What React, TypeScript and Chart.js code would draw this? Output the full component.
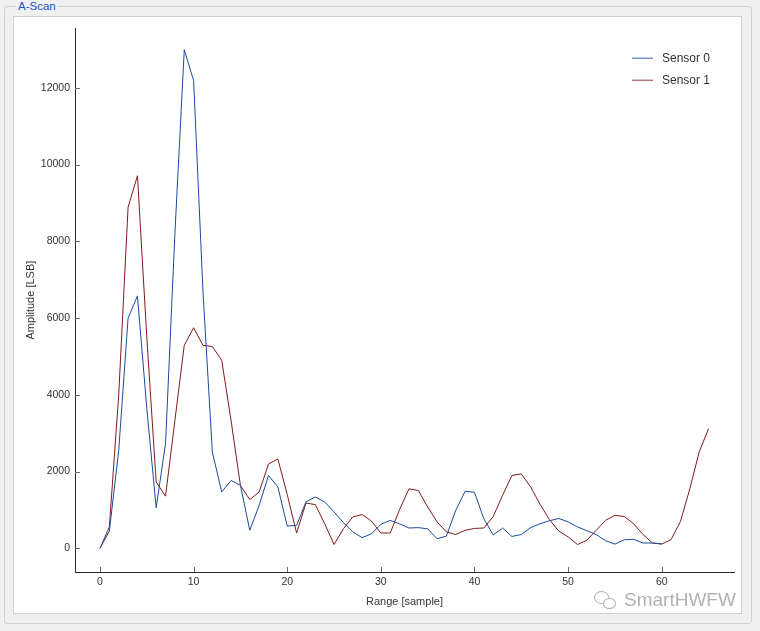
import React, { useEffect, useRef } from "react";
import { Chart, registerables } from "chart.js";

Chart.register(...registerables);

const seriesLabels = ["Sensor 0", "Sensor 1"];
const seriesColors = ["#1a4a9c", "#821a1a"];

const sensor0 = [
  0, 450, 2550, 6000, 6580, 3650, 1060, 2730, 8200, 12990,
  12190, 6700, 2510, 1470, 1770, 1640, 470, 1120, 1900, 1600,
  580, 600, 1210, 1340, 1210, 950, 670, 430, 280, 380,
  625, 730, 640, 530, 540, 510, 250, 320, 990, 1490,
  1460, 770, 350, 530, 310, 360, 540, 640, 720, 780,
  690, 560, 460, 360, 200, 110, 225, 235, 140, 140,
  120,
];

const sensor1 = [
  0, 560, 4000, 8890, 9710, 5500, 1730, 1360, 3330, 5290,
  5750, 5290, 5260, 4900, 3330, 1640, 1270, 1470, 2200, 2330,
  1400, 400, 1180, 1140, 640, 100, 510, 820, 880, 710,
  400, 400, 1010, 1550, 1510, 1080, 690, 430, 360, 470,
  520, 530, 830, 1380, 1900, 1940, 1600, 1150, 750, 450,
  300, 100, 210, 470, 730, 860, 830, 640, 360, 140,
  110, 230, 700, 1550, 2510, 3120,
];

const xTicks = [0, 10, 20, 30, 40, 50, 60];
const yTicks = [0, 2000, 4000, 6000, 8000, 10000, 12000];

const xTitle = "Range [sample]";
const yTitle = "Amplitude [LSB]";
const groupTitle = "A-Scan";
const watermark = "SmartHWFW";

const FONT = "'Liberation Sans', Arial, sans-serif";

const innerTicks = {
  id: "innerTicks",
  afterDraw(chart: any) {
    const { ctx, chartArea, scales } = chart;
    ctx.save();
    ctx.strokeStyle = "#6a6a6a";
    ctx.lineWidth = 1;
    ctx.beginPath();
    scales.x.ticks.forEach((t: any) => {
      const px = Math.round(scales.x.getPixelForValue(t.value)) + 0.5;
      ctx.moveTo(px, chartArea.bottom);
      ctx.lineTo(px, chartArea.bottom - 5);
    });
    scales.y.ticks.forEach((t: any) => {
      const py = Math.round(scales.y.getPixelForValue(t.value)) + 0.5;
      ctx.moveTo(chartArea.left, py);
      ctx.lineTo(chartArea.left + 5, py);
    });
    ctx.stroke();
    ctx.restore();
  },
};

const cornerLegend = {
  id: "cornerLegend",
  afterDraw(chart: any) {
    const { ctx, chartArea } = chart;
    ctx.save();
    ctx.font = `12px ${FONT}`;
    ctx.textBaseline = "middle";
    ctx.textAlign = "left";
    chart.data.datasets.forEach((ds: any, i: number) => {
      const y = chartArea.top + 30 + i * 22;
      ctx.strokeStyle = ds.borderColor;
      ctx.globalAlpha = 0.6;
      ctx.lineWidth = 1.5;
      ctx.beginPath();
      ctx.moveTo(chartArea.right - 102, y);
      ctx.lineTo(chartArea.right - 81, y);
      ctx.stroke();
      ctx.globalAlpha = 1;
      ctx.fillStyle = "#333";
      ctx.fillText(ds.label, chartArea.right - 72, y);
    });
    ctx.restore();
  },
};

function AScanChart() {
  const ref = useRef<HTMLCanvasElement | null>(null);
  useEffect(() => {
    if (!ref.current) return;
    const series = [sensor0, sensor1];
    const chart = new Chart(ref.current, {
      type: "line",
      data: {
        datasets: series.map((s, k) => ({
          label: seriesLabels[k],
          data: s.map((v, i) => ({ x: i, y: v })),
          borderColor: seriesColors[k],
          backgroundColor: seriesColors[k],
          borderWidth: 1,
          pointRadius: 0,
          tension: 0,
          fill: false,
        })),
      },
      options: {
        animation: false,
        responsive: false,
        devicePixelRatio: 1,
        layout: { padding: { top: 10, right: 7, left: 0, bottom: 0 } },
        plugins: {
          legend: { display: false },
          tooltip: { enabled: false },
        },
        scales: {
          x: {
            type: "linear",
            min: -2.67,
            max: 67.72,
            afterBuildTicks: (s: any) => {
              s.ticks = xTicks.map((v) => ({ value: v }));
            },
            afterFit: (s: any) => {
              s.height = 41;
            },
            grid: { display: false, drawTicks: false },
            border: { display: true, color: "#2a2a2a", width: 1 },
            ticks: {
              padding: 4,
              color: "#333",
              font: { family: FONT, size: 10.5 },
              maxRotation: 0,
              callback: (v: any) => String(v),
            },
            title: {
              display: true,
              text: xTitle,
              color: "#333",
              font: { family: FONT, size: 11 },
              padding: { top: 0, bottom: 4 },
            },
          },
          y: {
            type: "linear",
            min: -616,
            max: 13551,
            afterBuildTicks: (s: any) => {
              s.ticks = yTicks.map((v) => ({ value: v }));
            },
            afterFit: (s: any) => {
              s.width = 61;
            },
            grid: { display: false, drawTicks: false },
            border: { display: true, color: "#2a2a2a", width: 1 },
            ticks: {
              padding: 5,
              color: "#333",
              font: { family: FONT, size: 10.5 },
              callback: (v: any) => String(v),
            },
            title: {
              display: true,
              text: yTitle,
              color: "#333",
              font: { family: FONT, size: 11 },
              padding: { top: 10, bottom: 0 },
            },
          },
        },
      },
      plugins: [innerTicks, cornerLegend],
    } as any);
    return () => chart.destroy();
  }, []);
  return <canvas ref={ref} width={727} height={596} style={{ display: "block", width: 727, height: 596 }} />;
}

export default function App() {
  return (
    <div
      style={{
        position: "fixed",
        left: 0,
        top: 0,
        width: 760,
        height: 631,
        background: "#f0f0f0",
        fontFamily: FONT,
        overflow: "hidden",
      }}
    >
      <div
        style={{
          position: "absolute",
          left: 4,
          top: 6,
          width: 748,
          height: 618,
          border: "1px solid #d2d2d2",
          borderRadius: 3,
          boxSizing: "border-box",
        }}
      />
      <div
        style={{
          position: "absolute",
          left: 16,
          top: 0,
          padding: "0 2px",
          background: "#f0f0f0",
          color: "#1a52c6",
          fontSize: 11.5,
          lineHeight: "13px",
        }}
      >
        {groupTitle}
      </div>
      <div
        style={{
          position: "absolute",
          left: 13,
          top: 16,
          width: 729,
          height: 598,
          border: "1px solid #d0d0d0",
          background: "#fff",
          boxSizing: "border-box",
        }}
      >
        <AScanChart />
      </div>
      <div
        style={{
          position: "absolute",
          left: 594,
          top: 591,
          width: 13,
          height: 11,
          borderRadius: "50%",
          border: "1.5px solid #b0b0b0",
        }}
      />
      <div
        style={{
          position: "absolute",
          left: 603,
          top: 598,
          width: 11,
          height: 9,
          borderRadius: "50%",
          border: "1.5px solid #b0b0b0",
          background: "#fff",
        }}
      />
      <div
        style={{
          position: "absolute",
          left: 624,
          top: 589,
          fontSize: 19,
          lineHeight: "22px",
          color: "#b2b2b2",
          whiteSpace: "nowrap",
        }}
      >
        {watermark}
      </div>
    </div>
  );
}
